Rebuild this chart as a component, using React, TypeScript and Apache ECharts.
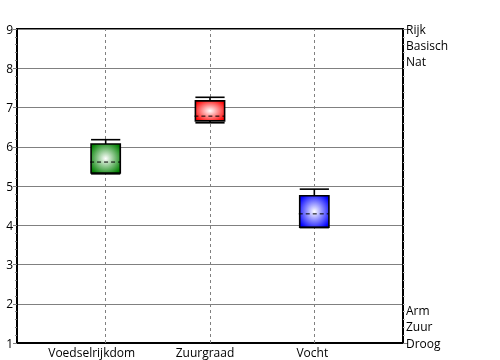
import React, { useEffect, useRef } from "react";
import * as echarts from "echarts";

const categories = ["Voedselrijkdom", "Zuurgraad", "Vocht"];
const positions = [1, 2, 3];
const lowValues = [5.31, 6.61, 3.94];
const q1Values = [5.33, 6.66, 3.95];
const medianValues = [5.61, 6.78, 4.29];
const q3Values = [6.07, 7.17, 4.75];
const highValues = [6.18, 7.26, 4.92];
const boxColors = ["#008000", "#ff0000", "#0000ff"];
const rightTopLabels = ["Rijk", "Basisch", "Nat"];
const rightBottomLabels = ["Arm", "Zuur", "Droog"];

const FONT = "Open Sans";
const labelShift = [28, 10, 4];

export default function App() {
  const ref = useRef<HTMLDivElement>(null);
  useEffect(() => {
    if (!ref.current) return;
    const chart = echarts.init(ref.current, null, { renderer: "svg" });
    const data = positions.map((p, i) => [
      p,
      lowValues[i],
      q1Values[i],
      medianValues[i],
      q3Values[i],
      highValues[i],
    ]);
    const renderItem = (params: any, api: any) => {
      const x = api.value(0);
      const lo = api.coord([x, api.value(1)]);
      const q1 = api.coord([x, api.value(2)]);
      const md = api.coord([x, api.value(3)]);
      const q3 = api.coord([x, api.value(4)]);
      const hi = api.coord([x, api.value(5)]);
      const w = api.size([0.28, 0])[0];
      const cx = q1[0];
      const left = cx - w / 2;
      const right = cx + w / 2;
      const color = boxColors[params.dataIndex];
      const grad = new echarts.graphic.RadialGradient(0.5, 0.5, 0.62, [
        { offset: 0, color: "#ffffff" },
        { offset: 1, color },
      ]);
      const black = { stroke: "#000", lineWidth: 1.6 };
      return {
        type: "group",
        children: [
          {
            type: "line",
            shape: { x1: cx, y1: q3[1], x2: cx, y2: hi[1] },
            style: black,
          },
          {
            type: "line",
            shape: { x1: cx, y1: q1[1], x2: cx, y2: lo[1] },
            style: black,
          },
          {
            type: "rect",
            shape: { x: left, y: q3[1], width: w, height: q1[1] - q3[1] },
            style: { fill: grad, stroke: "#000", lineWidth: 1.6 },
          },
          {
            type: "line",
            shape: { x1: left, y1: hi[1], x2: right, y2: hi[1] },
            style: black,
          },
          {
            type: "line",
            shape: { x1: left, y1: lo[1], x2: right, y2: lo[1] },
            style: black,
          },
          {
            type: "line",
            shape: { x1: left - 1, y1: md[1], x2: right, y2: md[1] },
            style: { stroke: "#000", lineWidth: 1, lineDash: [4, 3] },
          },
        ],
      };
    };
    const rich: Record<string, any> = {};
    labelShift.forEach((s, i) => {
      rich["c" + i] = {
        fontSize: 12,
        color: "#000",
        fontFamily: FONT,
        padding: [0, s, 0, 0],
      };
    });
    chart.setOption({
      animation: false,
      textStyle: { fontFamily: FONT },
      grid: {
        left: 17,
        right: 97,
        top: 29,
        bottom: 17,
        containLabel: false,
        outerBoundsMode: "none",
        show: true,
        borderColor: "#000",
        borderWidth: 2,
        backgroundColor: "transparent",
      },
      xAxis: {
        type: "value",
        min: 0.15,
        max: 3.85,
        axisLine: { show: true, lineStyle: { color: "#000", width: 2 } },
        axisTick: { show: false },
        splitLine: { show: false },
        axisLabel: {
          customValues: positions,
          formatter: (v: number) => {
            const i = Math.round(v) - 1;
            return categories[i] ? `{c${i}|${categories[i]}}` : "";
          },
          rich,
          fontSize: 12,
          color: "#000",
          margin: 3,
          fontFamily: FONT,
        },
      },
      yAxis: [
        {
          type: "value",
          min: 1,
          max: 9,
          interval: 1,
          position: "left",
          axisLine: { show: true, lineStyle: { color: "#000", width: 2 } },
          axisTick: { show: true, length: 4, lineStyle: { color: "#808080" } },
          minorTick: {
            show: true,
            splitNumber: 5,
            length: 2,
            lineStyle: { color: "#808080" },
          },
          splitLine: { show: true, lineStyle: { color: "#808080", width: 1 } },
          axisLabel: { fontSize: 12, color: "#000", margin: 4, fontFamily: FONT },
        },
        {
          type: "value",
          min: 1,
          max: 9,
          interval: 8,
          position: "right",
          axisLine: { show: true, lineStyle: { color: "#000", width: 2 } },
          axisTick: { show: true, length: 5, lineStyle: { color: "#808080" } },
          minorTick: {
            show: true,
            splitNumber: 40,
            length: 2,
            lineStyle: { color: "#c0c0c0" },
          },
          splitLine: { show: false },
          axisLabel: {
            formatter: (v: number) =>
              v === 9
                ? "\n\n" + rightTopLabels.join("\n")
                : v === 1
                ? rightBottomLabels.join("\n") + "\n\n"
                : "",
            fontSize: 12,
            color: "#000",
            lineHeight: 16.3,
            margin: 3,
            fontFamily: FONT,
          },
        },
      ],
      series: [
        {
          type: "line",
          data: [],
          z: 1,
          silent: true,
          markLine: {
            silent: true,
            symbol: ["none", "none"],
            label: { show: false },
            lineStyle: { color: "#808080", type: [3, 3], width: 1 },
            data: positions.map((p) => ({ xAxis: p })),
          },
        },
        {
          type: "custom",
          renderItem,
          data,
          z: 5,
          encode: { x: 0, y: [1, 2, 3, 4, 5] },
        },
      ],
    });
    return () => chart.dispose();
  }, []);
  return (
    <div
      ref={ref}
      style={{ position: "fixed", left: 0, top: 0, width: 500, height: 360 }}
    />
  );
}
